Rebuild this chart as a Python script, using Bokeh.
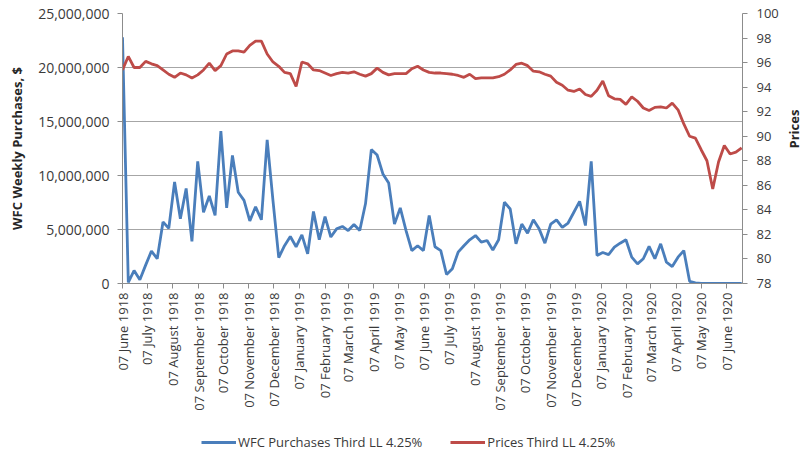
import math
import pandas as pd
from bokeh.plotting import figure
from bokeh.layouts import column
from bokeh.models import (LinearAxis, Range1d, FixedTicker, NumeralTickFormatter,
                          DatetimeTickFormatter, Legend, LegendItem, ColumnDataSource)
from bokeh.embed import file_html
from bokeh.resources import INLINE

# ---------------- data ----------------
first_week = "1918-06-07"
n_weeks = 108

purchases_millions = [
    22.8, 0.1, 1.2, 0.35, 1.7, 3.0, 2.3, 5.7, 5.1, 9.4,
    6.0, 8.8, 3.9, 11.3, 6.6, 8.1, 6.3, 14.1, 7.0, 11.85,
    8.45, 7.7, 5.8, 7.1, 5.9, 13.3, 7.7, 2.4, 3.5, 4.35,
    3.4, 4.5, 2.75, 6.67, 4.05, 6.2, 4.3, 5.06, 5.28, 4.9,
    5.46, 4.9, 7.4, 12.4, 11.9, 10.15, 9.3, 5.5, 7.0, 4.9,
    3.05, 3.5, 3.05, 6.3, 3.4, 3.05, 0.83, 1.36, 2.9, 3.5,
    4.05, 4.44, 3.83, 3.98, 3.1, 4.05, 7.53, 6.9, 3.67, 5.5,
    4.66, 5.9, 5.06, 3.73, 5.5, 5.9, 5.2, 5.6, 6.6, 7.6,
    5.37, 11.3, 2.6, 2.87, 2.68, 3.36, 3.73, 4.05, 2.44, 1.82,
    2.29, 3.43, 2.29, 3.67, 1.97, 1.57, 2.44, 3.05, 0.2, 0.05,
    0, 0, 0, 0, 0, 0, 0, 0,
]

prices = [
    95.4, 96.5, 95.6, 95.6, 96.1, 95.9, 95.75, 95.4, 95.05, 94.8,
    95.15, 95.0, 94.75, 95.0, 95.4, 95.95, 95.35, 95.75, 96.7, 96.95,
    96.95, 96.85, 97.4, 97.75, 97.75, 96.7, 96.05, 95.7, 95.2, 95.1,
    94.05, 96.05, 95.9, 95.4, 95.35, 95.15, 94.95, 95.1, 95.2, 95.15,
    95.25, 95.05, 94.9, 95.1, 95.55, 95.2, 95.0, 95.1, 95.1, 95.1,
    95.5, 95.7, 95.4, 95.2, 95.15, 95.15, 95.1, 95.05, 94.95, 94.8,
    95.05, 94.7, 94.75, 94.75, 94.75, 94.85, 95.05, 95.4, 95.85, 95.95,
    95.75, 95.3, 95.25, 95.05, 94.9, 94.4, 94.15, 93.75, 93.65, 93.85,
    93.4, 93.25, 93.75, 94.5, 93.3, 93.05, 93.0, 92.6, 93.2, 92.85,
    92.3, 92.1, 92.35, 92.4, 92.3, 92.7, 92.15, 91.0, 90.0, 89.85,
    88.9, 88.0, 85.7, 87.9, 89.25, 88.55, 88.7, 89.05,
]

tick_dates = [
    "1918-06-07", "1918-07-07", "1918-08-07", "1918-09-07", "1918-10-07",
    "1918-11-07", "1918-12-07", "1919-01-07", "1919-02-07", "1919-03-07",
    "1919-04-07", "1919-05-07", "1919-06-07", "1919-07-07", "1919-08-07",
    "1919-09-07", "1919-10-07", "1919-11-07", "1919-12-07", "1920-01-07",
    "1920-02-07", "1920-03-07", "1920-04-07", "1920-05-07", "1920-06-07",
]

left_ticks = [0, 5_000_000, 10_000_000, 15_000_000, 20_000_000, 25_000_000]
right_ticks = [78, 80, 82, 84, 86, 88, 90, 92, 94, 96, 98, 100]

series_names = ["WFC Purchases Third LL 4.25%", "Prices Third LL 4.25%"]
colors = ["#4a7ebb", "#be4b48"]

# ---------------- build ----------------
weeks = pd.date_range(first_week, periods=n_weeks, freq="7D")
source = ColumnDataSource(dict(
    date=weeks,
    purchases=[v * 1_000_000 for v in purchases_millions],
    price=prices,
))

FONT = "Open Sans"
TXT = "#3a3a3a"
AX = "#8c8c8c"
LW = 2.8

x_start = pd.Timestamp("1918-06-07")
x_end = pd.Timestamp("1920-06-26")

p = figure(frame_width=620, frame_height=270, x_axis_type="datetime",
           x_range=(x_start, x_end), y_range=Range1d(0, 25_000_000),
           output_backend="svg", toolbar_location=None,
           min_border_left=122, min_border_right=68,
           min_border_top=13, min_border_bottom=145)
p.outline_line_color = None
p.background_fill_color = "white"
p.border_fill_color = "white"
p.extra_y_ranges = {"price": Range1d(78, 100)}

# grid
p.xgrid.grid_line_color = None
p.ygrid.grid_line_color = "#a6a6a6"
p.ygrid.grid_line_width = 1
p.ygrid.ticker = FixedTicker(ticks=left_ticks)

# x axis
xa = p.xaxis[0]
xa.ticker = FixedTicker(ticks=[pd.Timestamp(d).value / 1e6 for d in tick_dates])
fmt = "%d %B %Y"
xa.formatter = DatetimeTickFormatter(
    microseconds=fmt, milliseconds=fmt, seconds=fmt, minsec=fmt, minutes=fmt,
    hourmin=fmt, hours=fmt, days=fmt, months=fmt, years=fmt)
xa.major_label_orientation = math.pi / 2
xa.minor_tick_line_color = None
xa.major_tick_out = 5
xa.major_tick_in = 0
xa.major_label_standoff = 4

# left axis
ya = p.yaxis[0]
ya.ticker = FixedTicker(ticks=left_ticks)
ya.formatter = NumeralTickFormatter(format="0,0")
ya.axis_label = "WFC Weekly Purchases, $"
ya.minor_tick_line_color = None
ya.major_tick_out = 5
ya.major_tick_in = 0
ya.major_label_standoff = 8
ya.axis_label_standoff = 9

# right axis (ticks and labels)
ra = LinearAxis(y_range_name="price", ticker=FixedTicker(ticks=right_ticks))
ra.minor_tick_line_color = None
ra.major_tick_out = 5
ra.major_tick_in = 0
ra.major_label_standoff = 9
p.add_layout(ra, "right")

# right axis title only (reads bottom-to-top)
rt = LinearAxis(y_range_name="price", ticker=FixedTicker(ticks=[]),
                axis_label="Prices", bounds=(78, 95.6))
rt.axis_line_color = None
rt.major_tick_line_color = None
rt.minor_tick_line_color = None
rt.major_tick_out = 0
rt.major_label_standoff = 0
rt.axis_label_standoff = 12
try:
    rt.axis_label_orientation = math.pi / 2
except Exception:
    pass
p.add_layout(rt, "right")

for ax in (xa, ya, ra, rt):
    ax.major_label_text_font = FONT
    ax.major_label_text_font_size = "13px"
    ax.major_label_text_color = TXT
    ax.axis_label_text_font = FONT
    ax.axis_label_text_font_size = "13px"
    ax.axis_label_text_font_style = "bold"
    ax.axis_label_text_color = "#262626"
for ax in (xa, ya, ra):
    ax.axis_line_color = AX
    ax.major_tick_line_color = AX
ya.major_label_text_font_size = "14px"

p.line("date", "purchases", source=source, line_color=colors[0], line_width=LW)
p.line("date", "price", source=source, line_color=colors[1], line_width=LW,
       y_range_name="price")

# ---------------- legend strip ----------------
# same series, drawn in a strip whose view lies outside the data (only the legend shows)
lg = figure(width=810, height=25, output_backend="svg", toolbar_location=None,
            x_range=Range1d(0, 1), y_range=Range1d(0, 1),
            x_axis_location=None, y_axis_location=None,
            min_border=0)
lg.outline_line_color = None
lg.grid.grid_line_color = None
k1 = lg.line("date", "purchases", source=source, line_color=colors[0], line_width=LW)
k2 = lg.line("date", "price", source=source, line_color=colors[1], line_width=LW)
legend = Legend(items=[LegendItem(label=series_names[0], renderers=[k1]),
                       LegendItem(label=series_names[1], renderers=[k2])],
                orientation="horizontal", location=(79, 2),
                glyph_width=35, glyph_height=14, label_standoff=2, spacing=28,
                border_line_color=None, background_fill_alpha=0,
                label_text_font=FONT, label_text_font_size="13px",
                label_text_color=TXT, padding=2, margin=0)
lg.add_layout(legend, "center")

layout = column(p, lg, spacing=0)
open("out.html", "w").write(file_html(layout, INLINE))
